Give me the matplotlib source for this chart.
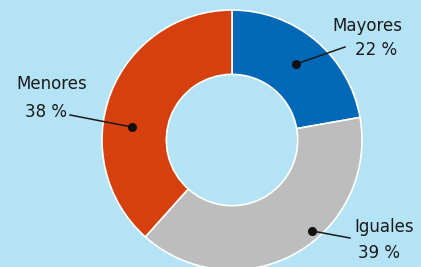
import numpy as np
import matplotlib
matplotlib.use("Agg")
import matplotlib.pyplot as plt

labels = ["Mayores", "Iguales", "Menores"]
values = [22, 39, 38]
pct_labels = ["22 %", "39 %", "38 %"]

colors = ["#0068b6", "#bdbdbd", "#d6400e"]
_BG = "#b4e3f6"

# dot placement (angle in degrees, radius) and text anchor per slice
dot_pos = [(50, 99), (-48.7, 121), (172.6, 101)]
name_xy = [(367, 241), (384, 40), (52, 183)]
pct_xy = [(376, 217), (379, 14), (46, 155)]
line_end = [(345, 220), (350, 29), (70, 152)]

W, H = 421, 267
cx, cy, R = 232, 127, 130

fig = plt.figure(figsize=(W / 100, H / 100), dpi=100)
fig.patch.set_facecolor(_BG)
ax = fig.add_axes([0, 0, 1, 1])
ax.set_facecolor(_BG)

ax.pie(values, colors=colors, startangle=90, counterclock=False,
       center=(cx, cy), radius=R, frame=True,
       wedgeprops={"width": R * 0.495, "edgecolor": "white", "linewidth": 1.2})
ax.set_xlim(0, W)
ax.set_ylim(0, H)
ax.set_aspect("equal")
ax.axis("off")

font = "DejaVu Sans"
for i in range(len(values)):
    ang, r = dot_pos[i]
    dx = cx + r * np.cos(np.radians(ang))
    dy = cy + r * np.sin(np.radians(ang))
    ax.plot([dx, line_end[i][0]], [dy, line_end[i][1]], color="#1a1a1a", lw=1.1)
    ax.plot(dx, dy, "o", color="#111111", ms=5.5)
    ax.text(*name_xy[i], labels[i], ha="center", va="center", fontsize=12,
            family=font, color="#1a1a1a")
    ax.text(*pct_xy[i], pct_labels[i], ha="center", va="center", fontsize=12,
            family=font, color="#1a1a1a")

fig.savefig("out.png", dpi=100, facecolor=_BG)
